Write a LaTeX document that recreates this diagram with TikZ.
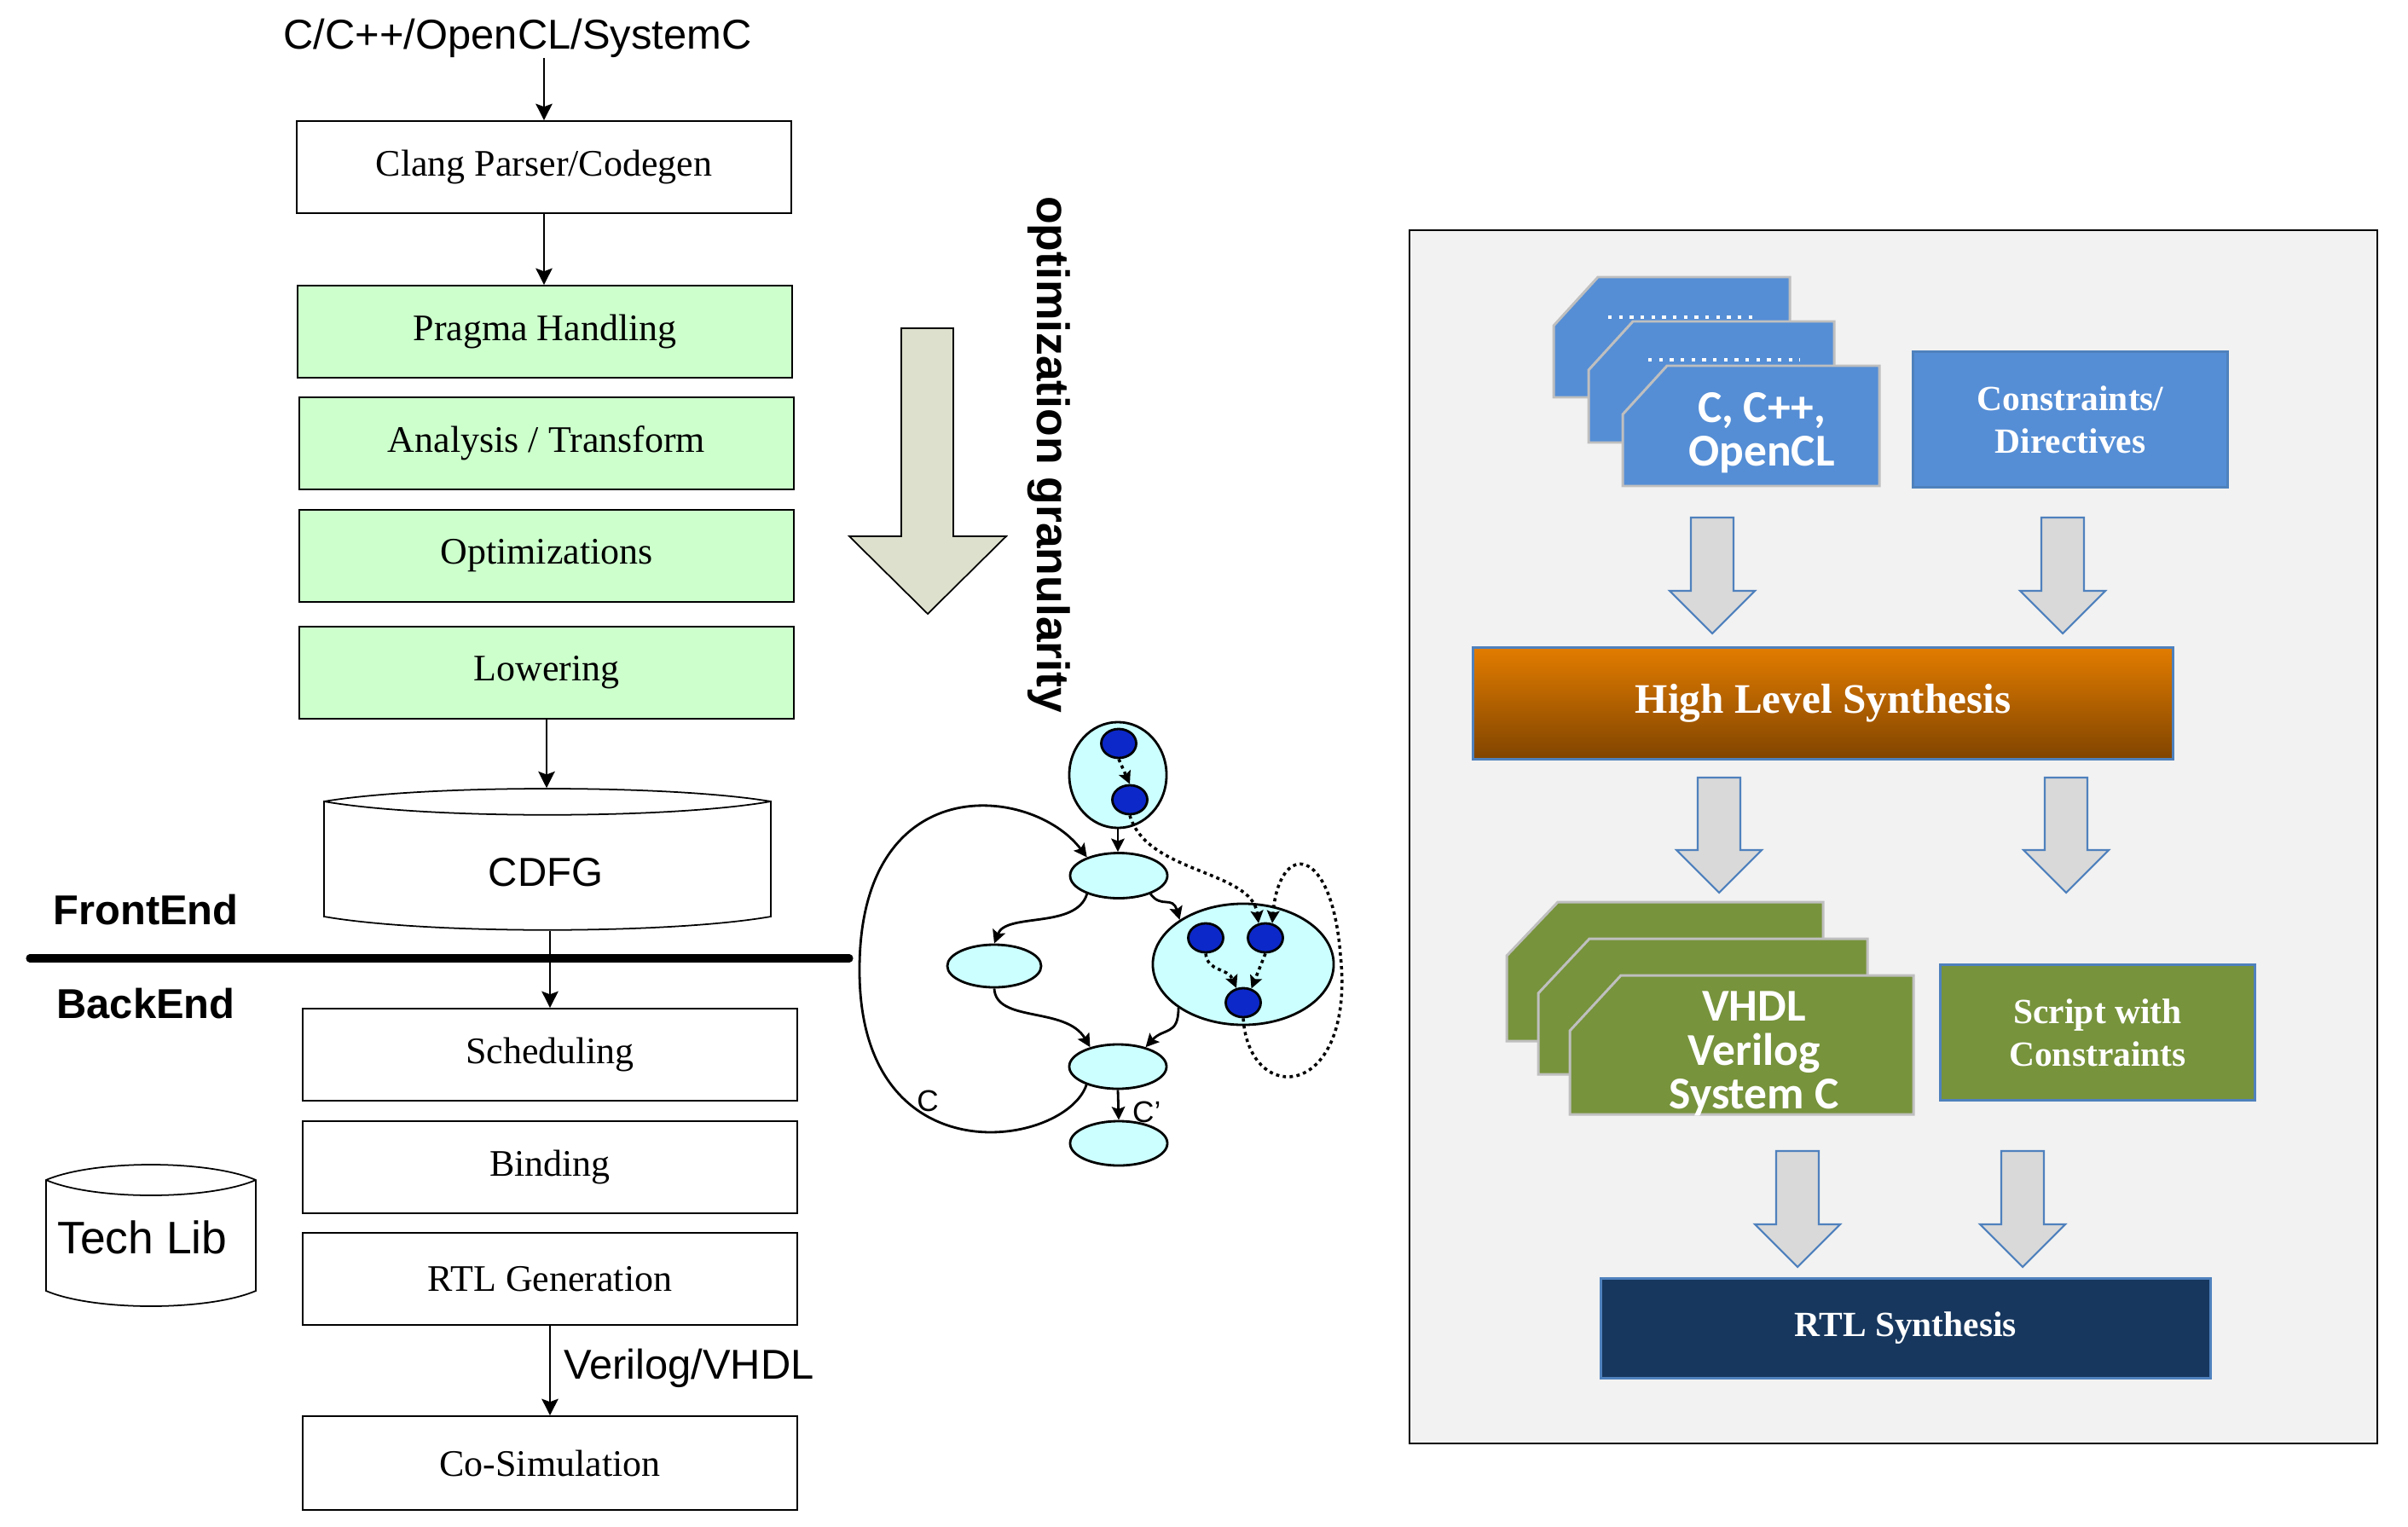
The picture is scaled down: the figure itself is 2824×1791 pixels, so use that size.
\documentclass[tikz,border=0pt]{standalone}
\usepackage{fontspec}
\setmainfont{Liberation Serif}
\newfontfamily\arialf{Liberation Sans}
\newfontfamily\calibf{Carlito}
\usetikzlibrary{arrows.meta,shapes.geometric}
\definecolor{boxgreen}{HTML}{CCFFCC}
\definecolor{gcyan}{HTML}{CCFFFF}
\definecolor{gdark}{RGB}{12,40,200}
\definecolor{bigarrowc}{RGB}{221,224,204}
\definecolor{panelbg}{HTML}{F2F2F2}
\definecolor{cardblue}{HTML}{558ED5}
\definecolor{cardgreen}{HTML}{77933C}
\definecolor{cardedge}{HTML}{BFBFBF}
\definecolor{officeblue}{HTML}{4F81BD}
\definecolor{arrowgray}{HTML}{D9D9D9}
\definecolor{navyc}{HTML}{17375E}
\definecolor{hlstop}{RGB}{226,124,0}
\definecolor{hlsbot}{RGB}{128,68,0}
\newcommand{\blkarrow}[4]{%
  \draw[blk] ({#1-25},#2) -- ({#1+25},#2) -- ({#1+25},#3) -- ({#1+50},#3) -- (#1,#4) -- ({#1-50},#3) -- ({#1-25},#3) -- cycle;}
\begin{document}
\begin{tikzpicture}[x=0.01cm,y=-0.01cm,
  stepbox/.style={draw, line width=0.5pt, minimum width=5.8cm, minimum height=1.08cm, inner sep=0, font=\fontsize{12.5}{15}\selectfont},
  greenstep/.style={stepbox, fill=boxgreen},
  flow/.style={line width=0.75pt, -{Stealth[length=5.5pt,width=5.5pt,inset=1pt]}},
  sanslbl/.style={inner sep=0, font=\arialf\fontsize{13.9}{16}\selectfont},
  boldlbl/.style={inner sep=0, font=\arialf\bfseries\fontsize{13.9}{16}\selectfont},
  cyl/.style={draw, line width=0.5pt, fill=white},
  gell/.style={ellipse, draw, line width=0.8pt, fill=gcyan, inner sep=0},
  gdot/.style={ellipse, draw, line width=0.8pt, fill=gdark, inner sep=0, minimum width=0.41cm, minimum height=0.34cm},
  garr/.style={line width=0.8pt, -{Stealth[length=4.4pt,width=4.4pt,inset=0.8pt]}},
  dotarr/.style={line width=1pt, dash pattern=on 1.1pt off 1.2pt, -{Stealth[length=4.2pt,width=4.2pt,inset=0.8pt]}},
  glbl/.style={inner sep=0, font=\arialf\fontsize{10}{11}\selectfont},
  blk/.style={draw=officeblue, fill=arrowgray, line width=0.6pt},
  bluecard/.style={draw=cardedge, fill=cardblue, line width=0.85pt},
  greencard/.style={draw=cardedge, fill=cardgreen, line width=0.85pt},
  dotsw/.style={white, line width=1.2pt, dash pattern=on 1.2pt off 2.4pt},
  cardtext/.style={inner sep=0, align=center, text=white, font=\calibf\bfseries\fontsize{15.2}{14.6}\selectfont},
  panelbox/.style={inner sep=0, align=center, text=white, line width=0.85pt, font=\bfseries\fontsize{11.8}{14.2}\selectfont},
]
\path[use as bounding box, fill=white] (0,0) rectangle (2824,1791);

% ---------------- left flow ----------------
\node[sanslbl] (src) at (607,45) {C/C++/OpenCL/SystemC};
\node[stepbox] (clang) at (638,196) {Clang Parser/Codegen};
\node[greenstep] (pragma) at (639,389) {Pragma Handling};
\node[greenstep] (analysis) at (641,520) {Analysis / Transform};
\node[greenstep] (optim) at (641,652) {Optimizations};
\node[greenstep] (lower) at (641,789) {Lowering};

% CDFG cylinder
\draw[cyl] (380,940) .. controls (500,920) and (784,920) .. (904,940) -- (904,1075)
  .. controls (784,1096) and (500,1096) .. (380,1075) -- cycle;
\draw[line width=0.5pt] (904,940) .. controls (784,961) and (500,961) .. (380,940);
\node[inner sep=0, minimum width=5.24cm, minimum height=1.66cm] (cdfg) at (642,1008) {};
\node[sanslbl, font=\arialf\fontsize{13.5}{16}\selectfont] (cdfgtxt) at (640,1023) {CDFG};

\node[stepbox] (sched) at (645,1237) {Scheduling};
\node[stepbox] (bind) at (645,1369) {Binding};
\node[stepbox] (rtlgen) at (645,1500) {RTL Generation};
\node[stepbox, minimum height=1.1cm] (cosim) at (645,1716) {Co-Simulation};

\node[boldlbl] (front) at (171,1067) {FrontEnd};
\node[boldlbl] (back) at (171,1177) {BackEnd};
\coordinate (divL) at (35,1124);
\coordinate (divR) at (996,1124);
\draw[line width=2.6pt, line cap=round] (divL) -- (divR);

% Tech Lib cylinder
\draw[cyl] (54,1384) .. controls (110,1360) and (244,1360) .. (300,1384) -- (300,1514)
  .. controls (244,1538) and (110,1538) .. (54,1514) -- cycle;
\draw[line width=0.5pt] (300,1384) .. controls (244,1408) and (110,1408) .. (54,1384);
\node[sanslbl, font=\arialf\fontsize{15.2}{17}\selectfont] (techlib) at (167,1451) {Tech Lib};

% flow arrows
\draw[flow] (src.south -| clang.north) -- (clang.north);
\draw[flow] (clang.south) -- (clang.south |- pragma.north);
\draw[flow] (lower.south) -- (lower.south |- cdfg.north);
\draw[flow] (cdfg.south -| sched.north) -- (sched.north);
\draw[flow] (rtlgen.south) -- (rtlgen.south |- cosim.north)
  node[pos=0.47, anchor=west, xshift=0.15cm, sanslbl] (vlabel) {Verilog/VHDL};

% optimization granularity arrow
\draw[fill=bigarrowc, line width=0.5pt] (1057,385) -- (1118,385) -- (1118,629) -- (1180,629)
  -- (1088,720) -- (996,629) -- (1057,629) -- cycle;
\node[rotate=-90, inner sep=0, font=\arialf\bfseries\fontsize{15.2}{17}\selectfont] (optg) at (1230,533) {optimization granularity};

% ---------------- graph ----------------
\node[gell, minimum width=1.14cm, minimum height=1.24cm] (gTop) at (1311,909) {};
\node[gdot] (d1) at (1312,872) {};
\node[gdot] (d2) at (1325,938) {};
\node[gell, minimum width=1.14cm, minimum height=0.53cm] (gA) at (1312,1027) {};
\node[gell, minimum width=1.10cm, minimum height=0.50cm] (gB) at (1166,1133) {};
\node[gell, minimum width=2.12cm, minimum height=1.42cm] (gE) at (1458,1131) {};
\node[gdot] (d3) at (1414,1100) {};
\node[gdot] (d4) at (1484,1100) {};
\node[gdot] (d5) at (1458,1176) {};
\node[gell, minimum width=1.14cm, minimum height=0.52cm] (gC) at (1311,1251) {};
\node[gell, minimum width=1.14cm, minimum height=0.52cm] (gD) at (1312,1341) {};

\draw[dotarr] (d1.south) -- (d2.north);
\draw[garr] (gTop.south) -- (gTop.south |- gA.north);
\draw[dotarr] (d2.south) .. controls (1345,1025) and (1468,1020) .. (d4.115);
\draw[dotarr] (d3.south) .. controls (1416,1140) and (1440,1135) .. (d5.115);
\draw[dotarr] (d4.south) -- (d5.60);
\coordinate (loopR) at (1572,1120);
\draw[dotarr] (d5.south) .. controls (1465,1300) and (1590,1290) .. (loopR)
  .. controls (1562,990) and (1500,985) .. (d4.65);
\draw[garr] (gA.-150) .. controls (1262,1090) and (1180,1070) .. (gB.north);
\draw[garr] (gA.-30) .. controls (1362,1066) and (1375,1050) .. (gE.145);
\draw[garr] (gB.south) .. controls (1168,1200) and (1250,1180) .. (gC.145);
\draw[garr] (gE.-146) .. controls (1382,1215) and (1365,1205) .. (gC.35);
\draw[garr] (gC.south) -- (gD.north) node[pos=0.75, anchor=west, xshift=0.15cm, glbl] (lblCp) {C’};
\coordinate (loopL) at (1008,1141);
\draw[garr] (gC.-150) .. controls (1250,1345) and (1010,1385) .. (loopL)
  .. controls (1006,900) and (1210,920) .. (gA.150);
\node[glbl] (lblC) at (1088,1291) {C};

% ---------------- right panel ----------------
\draw[line width=0.6pt, fill=panelbg] (1653,270) rectangle (2788,1693);

\draw[bluecard] (1822,382) -- (1874,325) -- (2099,325) -- (2099,466) -- (1822,466) -- cycle;
\draw[dotsw] (1886,372) -- (2062,372);
\draw[bluecard] (1863,434) -- (1915,377) -- (2151,377) -- (2151,519) -- (1863,519) -- cycle;
\draw[dotsw] (1933,422) -- (2111,422);
\draw[bluecard] (1903,486) -- (1955,429) -- (2204,429) -- (2204,570) -- (1903,570) -- cycle;
\node[cardtext] (srcfiles) at (2066,508) {C, C++,\\OpenCL};

\node[panelbox, fill=cardblue, draw=officeblue, minimum width=3.68cm, minimum height=1.58cm] (constr) at (2428,492) {Constraints/\\Directives};

\blkarrow{2008}{607}{693}{743}
\blkarrow{2419}{607}{693}{743}

\node[panelbox, draw=officeblue, top color=hlstop, bottom color=hlsbot, minimum width=8.21cm, minimum height=1.31cm, font=\bfseries\fontsize{14}{16}\selectfont] (hls) at (2138,825) {High Level Synthesis};

\blkarrow{2016}{912}{997}{1047}
\blkarrow{2423}{912}{997}{1047}

\draw[greencard] (1767,1121) -- (1827,1058) -- (2138,1058) -- (2138,1221) -- (1767,1221) -- cycle;
\draw[greencard] (1804,1165) -- (1864,1101) -- (2190,1101) -- (2190,1260) -- (1804,1260) -- cycle;
\draw[greencard] (1841,1209) -- (1901,1144) -- (2244,1144) -- (2244,1307) -- (1841,1307) -- cycle;
\node[cardtext] (hdlfiles) at (2057,1236) {VHDL\\Verilog\\System C};

\node[panelbox, fill=cardgreen, draw=officeblue, minimum width=3.68cm, minimum height=1.58cm] (script) at (2460,1211) {Script with\\Constraints};

\blkarrow{2108}{1350}{1436}{1486}
\blkarrow{2372}{1350}{1436}{1486}

\node[panelbox, fill=navyc, draw=officeblue, minimum width=7.14cm, minimum height=1.16cm] (rtlsyn) at (2235,1558) {RTL Synthesis};
\end{tikzpicture}
\end{document}
